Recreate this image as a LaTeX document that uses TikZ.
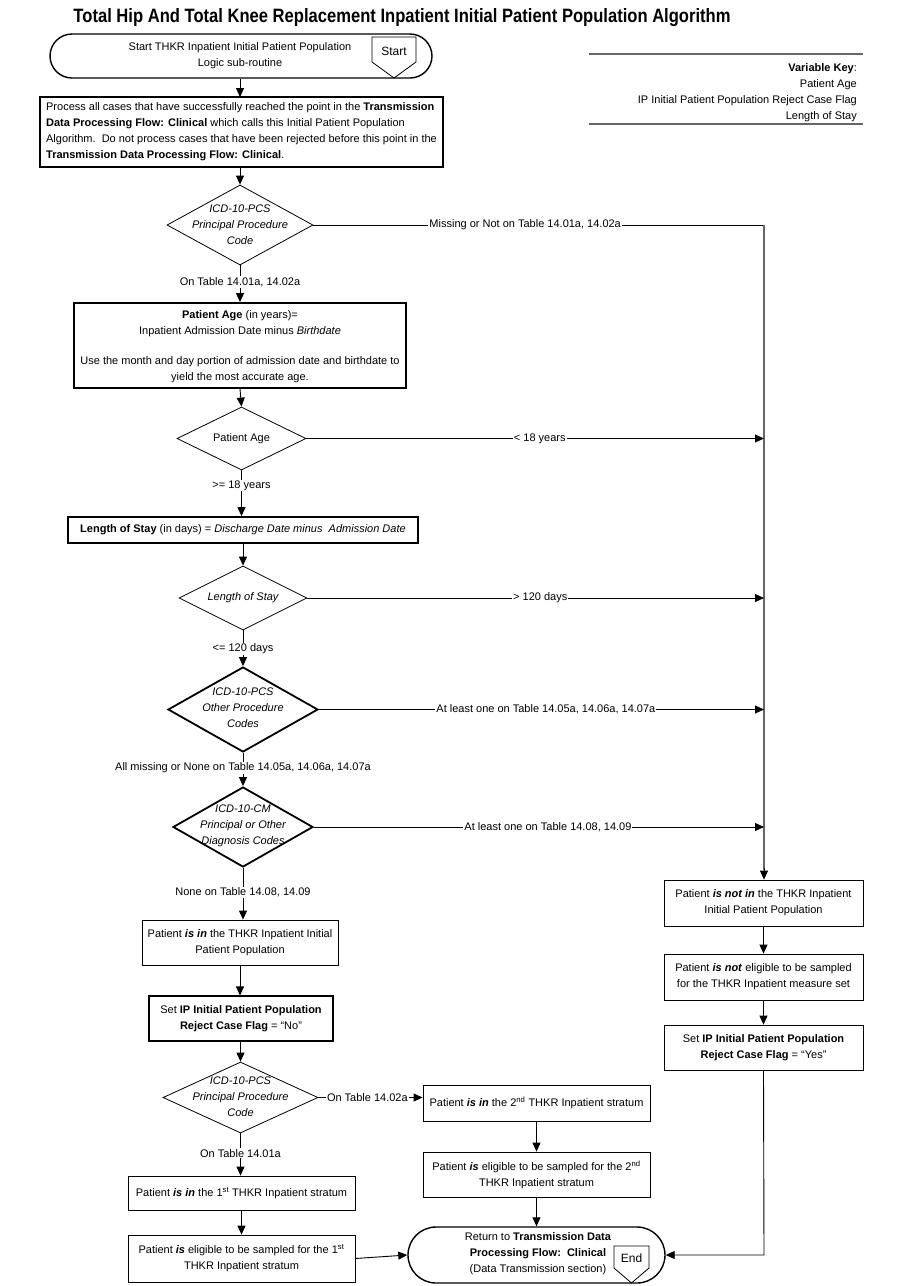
\documentclass[tikz,border=0pt]{standalone}
\usepackage{fontspec}
\setmainfont{Liberation Sans}
\usetikzlibrary{arrows.meta,shapes.geometric}
\begin{document}
\begin{tikzpicture}[x=1pt,y=-1pt,
  font=\fontsize{11}{16}\selectfont,
  box/.style={draw, line width=0.8pt, rectangle, inner sep=0pt, align=center},
  thickbox/.style={box, line width=1.8pt},
  term/.style={draw, line width=1.4pt, rectangle, inner sep=0pt, align=center},
  dia/.style={draw, diamond, inner sep=0pt, line width=0.8pt},
  thickdia/.style={dia, line width=1.8pt},
  ditext/.style={align=center, inner sep=0pt, font=\fontsize{11}{16}\selectfont\itshape},
  arr/.style={-{Triangle[length=9pt,width=8pt]}, line width=0.9pt},
  ln/.style={line width=0.9pt},
  trunk/.style={line width=1.4pt, draw=black!60},
  lab/.style={fill=white, inner sep=1pt},
  keyln/.style={line width=1.3pt, draw=black!60},
  keytx/.style={anchor=east, inner sep=0pt}
]
\useasboundingbox[fill=white] (0,0) rectangle (900,1286);

% title
\node (title) at (402,18) {\resizebox{657pt}{14pt}{\bfseries Total Hip And Total Knee Replacement Inpatient Initial Patient Population Algorithm}};

% variable key
\draw[keyln] (589,54) coordinate (k1) -- (863,54) coordinate (k2);
\draw[keyln] (589,124) coordinate (k3) -- (863,124) coordinate (k4);
\node[keytx] (kh) at (857,69) {\textbf{Variable Key}:};
\node[keytx] (ka) at (857,85) {Patient Age};
\node[keytx] (kb) at (857,101) {IP Initial Patient Population Reject Case Flag};
\node[keytx] (kc) at (857,117) {Length of Stay};

% start terminator
\node[term, rounded corners=22pt, minimum width=382pt, minimum height=44pt] (start) at (241,56) {};
\node[align=center, inner sep=0pt] (startt) at (240,56) {Start THKR Inpatient Initial Patient Population\\Logic sub-routine};
\draw[line width=0.8pt] (372,37) -- (416,37) -- (416,62) -- (394,78) -- (372,62) -- cycle;
\node (startlbl) at (394,51) {\fontsize{12}{14}\selectfont Start};

% process box
\node[thickbox, minimum width=403pt, minimum height=70pt] (proc) at (241.5,132) {};
\node[align=left, inner sep=0pt] (proct) at (241.5,132) {Process all cases that have successfully reached the point in the \textbf{Transmission}\\\textbf{Data Processing Flow: Clinical} which calls this Initial Patient Population\\Algorithm.\ \ Do not process cases that have been rejected before this point in the\\\textbf{Transmission Data Processing Flow: Clinical}.};

% diamond 1
\node[dia, minimum width=146pt, minimum height=80pt] (d1) at (240,225) {};
\node[ditext] (d1t) at (240,225) {ICD-10-PCS\\Principal Procedure\\Code};

% box 2
\node[thickbox, minimum width=332pt, minimum height=85pt] (b2) at (240,345.5) {};
\node[align=center, inner sep=0pt] (b2t) at (240,347) {\textbf{Patient Age} (in years)=\\Inpatient Admission Date minus \textit{Birthdate}\\[14pt]Use the month and day portion of admission date and birthdate to\\yield the most accurate age.};

% diamond 2
\node[dia, minimum width=129pt, minimum height=63pt] (d2) at (241.5,438.5) {};
\node[ditext, font=\fontsize{11}{16}\selectfont] (d2t) at (241.5,438.5) {Patient Age};

% box 3
\node[thickbox, minimum width=350pt, minimum height=26pt] (b3) at (243,530) {};
\node[inner sep=0pt] (b3t) at (243,530) {\textbf{Length of Stay} (in days) = \textit{Discharge Date minus\ \ Admission Date}};

% diamond 3
\node[dia, minimum width=128pt, minimum height=64pt] (d3) at (243,598) {};
\node[ditext] (d3t) at (243,598) {Length of Stay};

% diamond 4
\node[thickdia, minimum width=150pt, minimum height=85pt] (d4) at (243,709.5) {};
\node[ditext] (d4t) at (243,708) {ICD-10-PCS\\Other Procedure\\Codes};

% diamond 5
\node[thickdia, minimum width=140pt, minimum height=80pt] (d5) at (243,827) {};
\node[ditext] (d5t) at (243,826) {ICD-10-CM\\Principal or Other\\Diagnosis Codes};

% box 6
\node[box, minimum width=196pt, minimum height=45pt] (b6) at (240,942.5) {};
\node[align=center, inner sep=0pt] (b6t) at (240,942.5) {Patient \textbf{\textit{is in}} the THKR Inpatient Initial\\Patient Population};

% box 7
\node[box, line width=1.1pt, minimum width=184pt, minimum height=45pt] (b7) at (241,1018.5) {};
\node[align=center, inner sep=0pt] (b7t) at (241,1018.5) {Set \textbf{IP Initial Patient Population}\\\textbf{Reject Case Flag} = “No”};

% diamond 8
\node[dia, minimum width=155pt, minimum height=71pt] (d8) at (240.5,1097.5) {};
\node[ditext] (d8t) at (240.5,1097) {ICD-10-PCS\\Principal Procedure\\Code};

% box 9, 10
\node[box, minimum width=227pt, minimum height=36pt] (b9) at (536.5,1103) {};
\node[inner sep=0pt] (b9t) at (536.5,1103) {Patient \textbf{\textit{is in}} the 2\textsuperscript{nd} THKR Inpatient stratum};
\node[box, minimum width=227pt, minimum height=45pt] (b10) at (536.5,1174.5) {};
\node[align=center, inner sep=0pt] (b10t) at (536.5,1174.5) {Patient \textbf{\textit{is}} eligible to be sampled for the 2\textsuperscript{nd}\\THKR Inpatient stratum};

% box 11, 12
\node[box, minimum width=227pt, minimum height=34pt] (b11) at (241.5,1193) {};
\node[inner sep=0pt] (b11t) at (241.5,1193) {Patient \textbf{\textit{is in}} the 1\textsuperscript{st} THKR Inpatient stratum};
\node[box, minimum width=227pt, minimum height=47pt] (b12) at (241.5,1258.5) {};
\node[align=center, inner sep=0pt] (b12t) at (241.5,1258.5) {Patient \textbf{\textit{is}} eligible to be sampled for the 1\textsuperscript{st}\\THKR Inpatient stratum};

% right column
\node[box, minimum width=199pt, minimum height=46pt] (r1) at (763.5,903) {};
\node[align=center, inner sep=0pt] (r1t) at (763.5,903) {Patient \textbf{\textit{is not in}} the THKR Inpatient\\Initial Patient Population};
\node[box, minimum width=199pt, minimum height=46pt] (r2) at (763.5,977) {};
\node[align=center, inner sep=0pt] (r2t) at (763.5,977) {Patient \textbf{\textit{is not}} eligible to be sampled\\for the THKR Inpatient measure set};
\node[box, minimum width=199pt, minimum height=45pt] (r3) at (763.5,1047.5) {};
\node[align=center, inner sep=0pt] (r3t) at (763.5,1047.5) {Set \textbf{IP Initial Patient Population}\\\textbf{Reject Case Flag} = “Yes”};

% end terminator
\node[term, rounded corners=28pt, minimum width=257pt, minimum height=56pt] (endt) at (536.5,1255) {};
\node[align=center, inner sep=0pt] (endtx) at (538,1254) {Return to \textbf{Transmission Data}\\\textbf{Processing Flow:\ \ Clinical}\\(Data Transmission section)};
\draw[line width=0.8pt] (614,1246) -- (649,1246) -- (649,1268) -- (631.5,1283) -- (614,1268) -- cycle;
\node (endlbl) at (631.5,1258) {\fontsize{12}{14}\selectfont End};

% trunk
\coordinate (rt) at (764,225);
\coordinate (rb) at (764,1255);

% main connectors
\draw[arr] (start.south -| 240,0) -- (240,97);
\draw[arr] (240,167) -- (d1.north);
\draw[ln] (d1.east) -- node[lab, pos=0.47] (l1) {Missing or Not on Table 14.01a, 14.02a} (rt);
\draw[trunk] (rt) -- (764,870);
\draw[arr] (764,868) -- (r1.north -| rt);
\draw[arr] (d1.south) -- node[lab, pos=0.45] (l2) {On Table 14.01a, 14.02a} (d1.south |- b2.north);
\draw[arr] (b2.south) -- (d2.north);
\draw[arr] (d2.east) -- node[lab, pos=0.51] (l3) {< 18 years} (d2.east -| rt);
\draw[arr] (d2.south) -- node[lab, pos=0.33] (l4) {>= 18 years} (d2.south |- b3.north);
\draw[arr] (b3.south) -- (d3.north);
\draw[arr] (d3.east) -- node[lab, pos=0.51] (l5) {> 120 days} (d3.east -| rt);
\draw[arr] (d3.south) -- node[lab, pos=0.52] (l6) {<= 120 days} (d3.south |- d4.north);
\draw[arr] (d4.east) -- node[lab, pos=0.51] (l7) {At least one on Table 14.05a, 14.06a, 14.07a} (d4.east -| rt);
\draw[arr] (d4.south) -- node[lab, pos=0.45] (l8) {All missing or None on Table 14.05a, 14.06a, 14.07a} (d4.south |- d5.north);
\draw[arr] (d5.east) -- node[lab, pos=0.52] (l9) {At least one on Table 14.08, 14.09} (d5.east -| rt);
\draw[arr] (d5.south) -- node[lab, pos=0.47] (l10) {None on Table 14.08, 14.09} (d5.south |- b6.north);
\draw[arr] (b6.south) -- (b6.south |- b7.north);
\draw[arr] (b7.south) -- (b7.south -| d8.north) -- (d8.north);
\draw[arr] (d8.east) -- node[lab, pos=0.47] (l11) {On Table 14.02a} (d8.east -| b9.west);
\draw[arr] (d8.south) -- node[lab, pos=0.47] (l12) {On Table 14.01a} (d8.south |- b11.north);
\draw[arr] (b11.south) -- (b11.south |- b12.north);
\draw[arr] (b9.south) -- (b9.south |- b10.north);
\draw[arr] (b10.south) -- (b10.south |- endt.north);
\draw[arr] (b12.east) -- (endt.west);
\draw[arr] (r1.south) -- (r1.south |- r2.north);
\draw[arr] (r2.south) -- (r2.south |- r3.north);
\draw[arr] (r3.south) -- (rb) -- (endt.east);
\end{tikzpicture}
\end{document}
